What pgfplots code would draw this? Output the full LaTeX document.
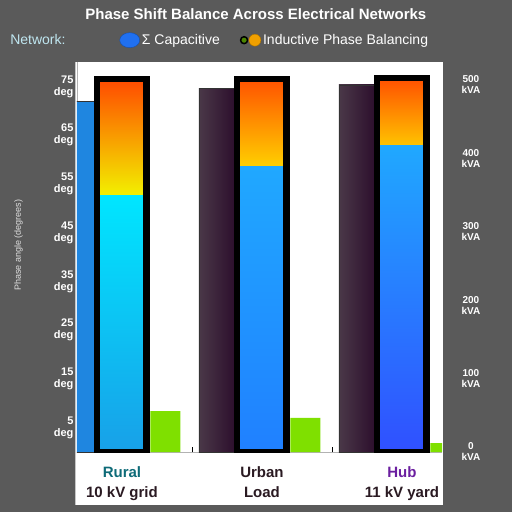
\documentclass[border=0pt]{standalone}
\usepackage{pgfplots}
\pgfplotsset{compat=1.18}
\usepackage{fontspec}
\setmainfont{Liberation Sans}
\definecolor{bggray}{HTML}{5A5A5A}
\definecolor{cAone}{HTML}{1F86E0}
\definecolor{purL}{HTML}{4A3848}
\definecolor{purR}{HTML}{2C0E2C}
\definecolor{grn}{HTML}{7FE000}
\definecolor{bOneT}{HTML}{00E6FF}
\definecolor{bOneB}{HTML}{18A0E8}
\definecolor{bTwoT}{HTML}{20A8FF}
\definecolor{bTwoB}{HTML}{2080FF}
\definecolor{bThrT}{HTML}{20A8FF}
\definecolor{bThrB}{HTML}{3050FF}
\definecolor{oOneT}{HTML}{FF4A00}
\definecolor{oOneB}{HTML}{F2F000}
\definecolor{oTwoT}{HTML}{FF5200}
\definecolor{oTwoB}{HTML}{FFD000}
\definecolor{oThrT}{HTML}{FF5000}
\definecolor{oThrB}{HTML}{FFC400}
\definecolor{labA}{HTML}{0E6B78}
\definecolor{labB}{HTML}{2A1A22}
\definecolor{labC}{HTML}{6B1FA0}
\definecolor{legblue}{HTML}{2070F0}
\definecolor{legorange}{HTML}{F0A000}
\definecolor{legcyan}{HTML}{BFE6F0}
\pgfplotsset{base/.style={scale only axis, width=365pt, height=390pt,
  at={(77pt,60pt)}, anchor=south west,
  xmin=-0.321, xmax=2.286, ymin=0, ymax=80}}
\begin{document}
\begin{tikzpicture}
\fill[bggray] (0,0) rectangle (512pt,512pt);
\useasboundingbox (0,0) rectangle (512pt,512pt);
\fill[white] (75pt,7pt) rectangle (443pt,450pt);
\draw[gray!45, line width=1pt] (75pt,7pt) -- (75pt,450pt);

% stacked bars, group 1
\begin{axis}[base, hide axis, ybar stacked, bar width=0.354]
\addplot[draw=none, top color=bOneT, bottom color=bOneB] coordinates {(0,52.7)};
\addplot[draw=none, top color=oOneT, bottom color=oOneB] coordinates {(0,23.8)};
\end{axis}
% stacked bars, group 2
\begin{axis}[base, hide axis, ybar stacked, bar width=0.354]
\addplot[draw=none, top color=bTwoT, bottom color=bTwoB] coordinates {(1,58.5)};
\addplot[draw=none, top color=oTwoT, bottom color=oTwoB] coordinates {(1,18.0)};
\end{axis}
% stacked bars, group 3
\begin{axis}[base, hide axis, ybar stacked, bar width=0.354]
\addplot[draw=none, top color=bThrT, bottom color=bThrB] coordinates {(2,62.8)};
\addplot[draw=none, top color=oThrT, bottom color=oThrB] coordinates {(2,13.9)};
\end{axis}

% main axis
\begin{axis}[base,
  axis x line*=bottom, axis y line*=left,
  axis line style={gray!60, line width=0.6pt},
  major tick length=0pt,
  xtick={0,1,2},
  xticklabels={{\textcolor{labA}{Rural}\\10 kV grid},{\textcolor{labB}{Urban}\\Load},{\textcolor{labC}{Hub}\\11 kV yard}},
  xticklabel style={align=center, text=labB, yshift=-11pt, font=\bfseries\fontsize{15}{20}\selectfont},
  extra x ticks={0.5,1.5}, extra x tick labels={},
  extra x tick style={major tick length=5pt, tick style={black, line width=0.6pt}},
  ytick={5,15,25,35,45,55,65,75},
  yticklabels={{5\\deg},{15\\deg},{25\\deg},{35\\deg},{45\\deg},{55\\deg},{65\\deg},{75\\deg}},
  yticklabel style={align=right, text=white, font=\bfseries\fontsize{11}{12}\selectfont},
  ylabel={Phase angle (degrees)},
  ylabel style={at={(axis description cs:-0.16,0.53)}, anchor=center, text=gray!25, font=\fontsize{9}{10}\selectfont},
  title={Phase Shift Balance Across Electrical Networks},
  title style={at={(0.49,1.108)}, anchor=center, text=white, font=\bfseries\fontsize{15}{17}\selectfont},
  legend columns=-1,
  legend style={at={(-0.197,1.056)}, anchor=west, draw=none, fill=none, text=white,
    font=\fontsize{14}{16}\selectfont, /tikz/every even column/.append style={column sep=18pt}},
]
\addlegendimage{empty legend}
\addlegendentry{\textcolor{legcyan}{Network:}\hspace*{34pt}\null}
\addlegendimage{legend image code/.code={\fill[legblue, draw=legblue!70!black] (0.3cm,0) ellipse (10pt and 7.5pt);}}
\addlegendentry{Σ Capacitive}
\addlegendimage{legend image code/.code={\draw[fill=grn!60!black, draw=black, line width=1.5pt] (0.1cm,0) circle (3.5pt); \draw[fill=legorange, draw=legorange!70!black] (0.48cm,0) circle (6pt);}}
\addlegendentry{Inductive Phase Balancing}

\addplot[forget plot, ybar, bar width=0.26, bar shift=-0.32, fill=cAone, draw=black!80, line width=1pt] coordinates {(0,72.0)};
\addplot[forget plot, ybar, bar width=0.26, bar shift=-0.32, left color=purL, right color=purR, draw=black!80, line width=0.8pt] coordinates {(1,74.5)};
\addplot[forget plot, ybar, bar width=0.26, bar shift=-0.32, left color=purL, right color=purR, draw=black!80, line width=0.8pt] coordinates {(2,75.3)};
\addplot[forget plot, ybar, bar width=0.214, bar shift=0.31, fill=grn, draw=none] coordinates {(0,8.4) (1,7.0) (2,1.8)};
\addplot[forget plot, ybar, bar width=0.354, bar shift=0, fill=none, draw=black, line width=6.5pt] coordinates {(0,76.5) (1,76.5) (2,76.7)};
\end{axis}

% right axis
\begin{axis}[base, ymin=0, ymax=531, hide x axis,
  axis y line*=right, axis line style={draw=none},
  major tick length=0pt,
  ytick={0,100,200,300,400,500},
  yticklabels={{0\\kVA},{100\\kVA},{200\\kVA},{300\\kVA},{400\\kVA},{500\\kVA}},
  yticklabel style={align=center, text=white, xshift=16pt, font=\bfseries\fontsize{10}{11}\selectfont},
]
\end{axis}
\end{tikzpicture}
\end{document}
